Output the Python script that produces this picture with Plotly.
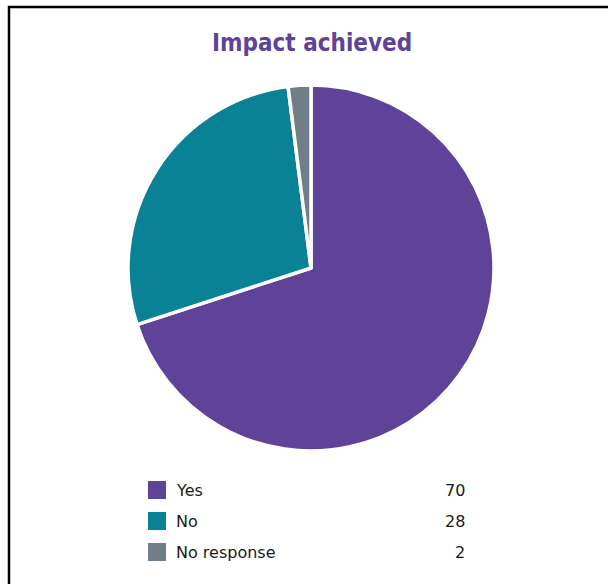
import plotly.graph_objects as go

labels = ["Yes", "No", "No response"]
values = [70, 28, 2]
colors = ["#5E4399", "#0A8296", "#6F7E87"]

W, H = 608, 584

def px(x):
    return x / W

def py(y):
    return (H - y) / H

fig = go.Figure()
fig.add_trace(go.Pie(
    labels=labels, values=values, sort=False, direction="clockwise", rotation=0,
    marker=dict(colors=colors, line=dict(color="white", width=3.5)),
    textinfo="none", hoverinfo="label+value", showlegend=False,
    domain=dict(x=[px(128), px(494)], y=[py(451), py(85)]),
))

shapes = [dict(type="rect", xref="paper", yref="paper",
               x0=px(9), x1=1.1, y0=-0.1, y1=py(7),
               line=dict(color="black", width=2.5), fillcolor="rgba(0,0,0,0)")]
annotations = [dict(text="<b>Impact achieved</b>", x=px(312), y=py(43),
                    xref="paper", yref="paper", showarrow=False,
                    font=dict(family="DejaVu Sans Condensed, Lato", size=24, color="#5E4399"),
                    xanchor="center", yanchor="middle")]
ys = [490, 521, 552]
for lab, val, col, yy in zip(labels, values, colors, ys):
    shapes.append(dict(type="rect", xref="paper", yref="paper",
                       x0=px(148), x1=px(166), y0=py(yy + 9), y1=py(yy - 9),
                       line=dict(width=0), fillcolor=col))
    annotations.append(dict(text=lab, x=px(174), y=py(yy), xref="paper", yref="paper",
                            showarrow=False, xanchor="left", yanchor="middle",
                            font=dict(family="DejaVu Sans", size=16, color="#1a1a1a")))
    annotations.append(dict(text=str(val), x=px(467), y=py(yy), xref="paper", yref="paper",
                            showarrow=False, xanchor="right", yanchor="middle",
                            font=dict(family="DejaVu Sans", size=16, color="#1a1a1a")))

fig.update_layout(width=W, height=H, margin=dict(l=0, r=0, t=0, b=0),
                  paper_bgcolor="white", plot_bgcolor="white",
                  shapes=shapes, annotations=annotations)
fig.write_html("out.html", config={"displayModeBar": False},
               post_script="document.body.style.margin='0';")
